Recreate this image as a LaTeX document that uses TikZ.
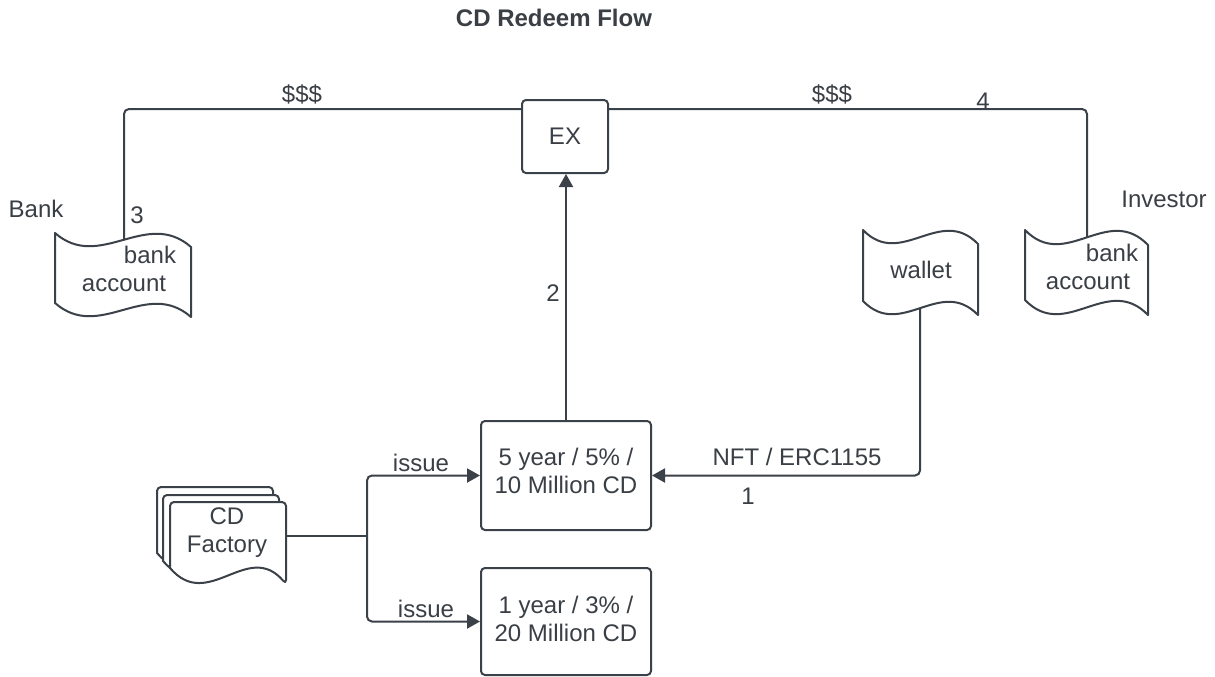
\documentclass[tikz,border=0pt]{standalone}
\usepackage{fontspec}
\setmainfont{Liberation Sans}
\usetikzlibrary{arrows.meta,calc}
\definecolor{ink}{RGB}{59,65,72}
\definecolor{txt}{RGB}{58,63,69}
% tape shape: x0 y0 w h d
\newcommand\tapeshp[5]{%
  \draw[shapeline] (#1,#2) .. controls ({#1+0.33*#3},{#2+2.8*#5}) and ({#1+0.67*#3},{#2-1.8*#5}) .. ({#1+#3},{#2+#5})
    -- ({#1+#3},{#2+#4+#5}) .. controls ({#1+0.67*#3},{#2+#4-1.8*#5}) and ({#1+0.33*#3},{#2+#4+2.8*#5}) .. (#1,{#2+#4}) -- cycle;}
% document shape: x0 y0 w h d
\newcommand\docshp[5]{%
  \draw[shapeline] (#1,{#2+#4}) [rounded corners=4pt] -- (#1,#2) -- ({#1+#3},#2) -- ({#1+#3},{#2+#4+#5}) [sharp corners]
    .. controls ({#1+0.67*#3},{#2+#4-1.8*#5}) and ({#1+0.33*#3},{#2+#4+2.8*#5}) .. (#1,{#2+#4}) -- cycle;}
\begin{document}
\begin{tikzpicture}[x=1pt,y=-1pt,
  shapeline/.style={draw=ink, line width=2pt, fill=white, line join=round},
  box/.style={draw=ink, line width=2pt, rounded corners=4pt, fill=white, inner sep=0pt},
  lbl/.style={text=txt, font=\fontsize{24}{28}\selectfont, inner sep=0pt, align=center},
  conn/.style={draw=ink, line width=2pt, rounded corners=5pt},
  arr/.style={-{Triangle[length=13pt,width=14pt]}}]
\fill[white] (0,0) rectangle (1215,677);
\useasboundingbox (0,0) rectangle (1215,677);

% title
\node[lbl, font=\fontsize{24}{28}\selectfont\bfseries] (title) at (554,18) {CD Redeem Flow};

% boxes
\node[box, minimum width=86pt, minimum height=73pt] (EX) at (565,136.5) {};
\node[lbl] (EXt) at (565,136) {EX};
\node[box, minimum width=170pt, minimum height=109pt] (box5) at (566,475.5) {};
\node[lbl] (box5t) at (566,471) {5 year / 5\% /\\10 Million CD};
\node[box, minimum width=170pt, minimum height=107pt] (box1) at (566,621.5) {};
\node[lbl] (box1t) at (566,619) {1 year / 3\% /\\20 Million CD};

% tapes
\tapeshp{55}{233}{136}{70}{14}
\tapeshp{1025}{230}{123}{70}{15}
\tapeshp{863}{230}{115}{71}{14}
\coordinate (bankLtop) at (124,240);
\coordinate (bankRtop) at (1087,237.5);
\coordinate (walletbot) at (920,308);
\node[lbl] (bankLa) at (150,255) {bank};
\node[lbl] (bankLb) at (124,284) {account};
\node[lbl] (bankRa) at (1112,253) {bank};
\node[lbl] (bankRb) at (1088,282) {account};
\node[lbl] (wallett) at (921,270) {wallet};

% CD factory
\docshp{157}{487}{116}{66}{16}
\docshp{163}{495}{116}{66}{16}
\docshp{170}{502}{116}{66}{16}
\node[lbl] (factory) at (227,533) {CD\\Factory};
\coordinate (factE) at (286,536);
\coordinate (junc) at (367,536);

% connectors
\coordinate (EXw) at ($(EX.north west)+(0,10)$);
\coordinate (EXe) at ($(EX.north east)+(0,10)$);
\draw[conn] (bankLtop) |- (EXw);
\draw[conn] (EXe) -| (bankRtop);
\draw[conn,arr] (box5.north) -- (box5.north |- EX.south);
\draw[conn,arr] (walletbot) |- (box5.east);
\draw[conn] (factE) -- (junc);
\draw[conn,arr] (junc) |- (box5.west);
\draw[conn,arr] (junc) |- (box1.west);

% labels
\node[lbl] (bankname) at (36,209) {Bank};
\node[lbl] (n3) at (137,215) {3};
\node[lbl] (usd1) at (302,94) {\$\$\$};
\node[lbl] (usd2) at (832,94) {\$\$\$};
\node[lbl] (n4) at (983,101) {4};
\node[lbl] (investor) at (1164,199) {Investor};
\node[lbl] (n2) at (553,293) {2};
\node[lbl] (nft) at (797,457) {NFT / ERC1155};
\node[lbl] (n1) at (748,496) {1};
\node[lbl] (issue1) at (421,463) {issue};
\node[lbl] (issue2) at (426,609) {issue};
\end{tikzpicture}
\end{document}
